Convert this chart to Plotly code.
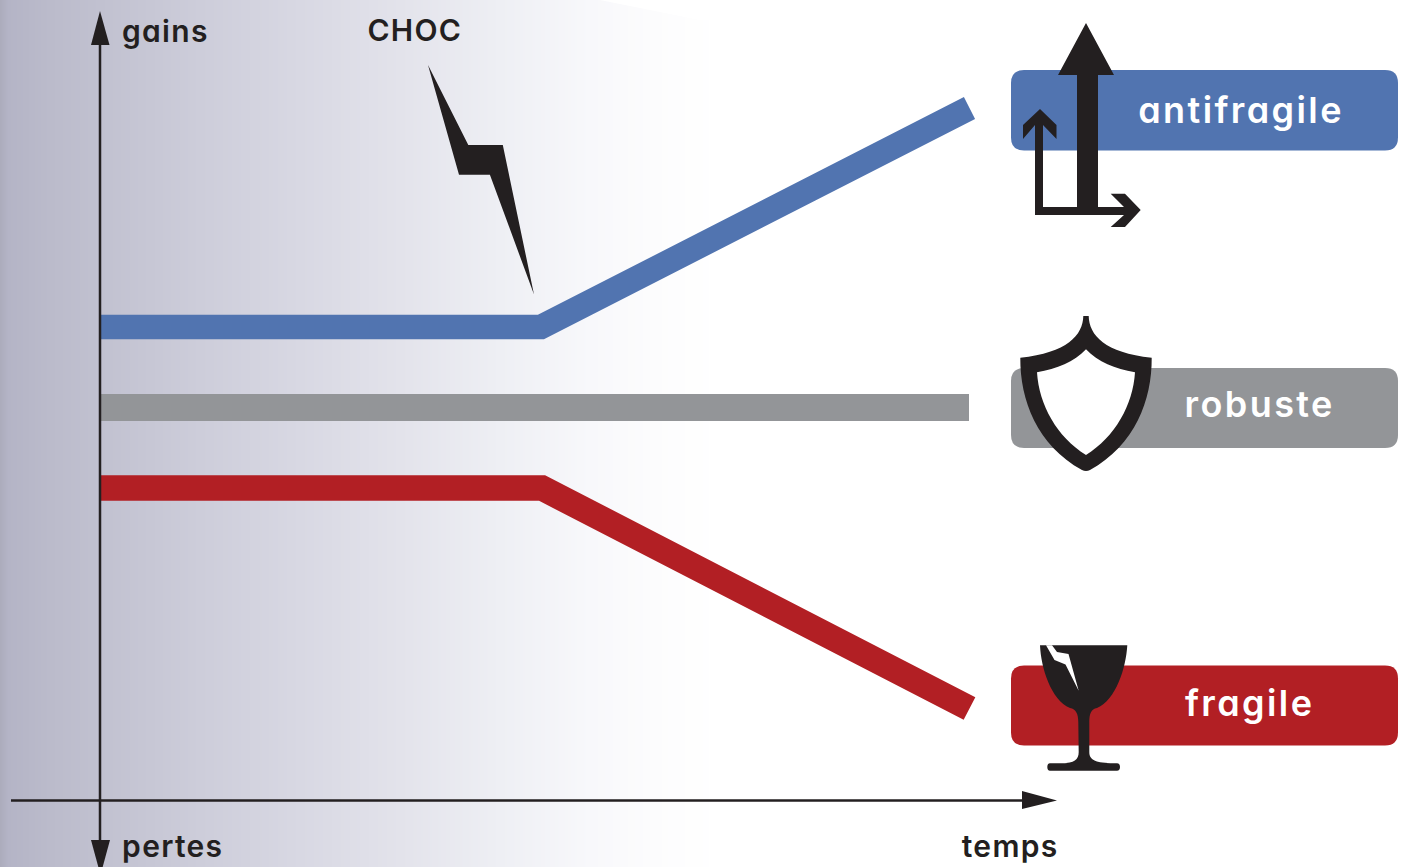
import plotly.graph_objects as go

# ---- data (pixel-like units of the drawing) ----
time_antifragile = [100, 541, 969.5]
level_antifragile = [327, 327, 108]
time_robuste = [100, 969]
level_robuste = [407.5, 407.5]
time_fragile = [100, 542, 969.5]
level_fragile = [488, 488, 708.5]

label_names = ["antifragile", "robuste", "fragile"]
label_colors = ["#5174b0", "#939598", "#b21f24"]
label_tops = [70, 368, 665.5]
label_bottoms = [150.5, 448, 745.5]
label_left = 1011
label_right = 1398
label_text_x = [1241, 1259.5, 1249]
label_text_y = [110, 404, 703]

gradient_x = [0, 8, 50, 100, 200, 300, 400, 500, 590, 650, 720, 1404]
gradient_v = [0.0, 0.04, 0.12, 0.24, 0.36, 0.48, 0.60, 0.74, 0.88, 0.96, 1.0, 1.0]
gradient_scale = [[0.0, "#acacbc"], [0.04, "#b4b4c6"], [0.12, "#bbbbcb"], [0.24, "#c1c1d0"], [0.36, "#cdcdda"],
                  [0.48, "#d8d8e3"], [0.60, "#e3e3eb"], [0.74, "#eeeff4"], [0.88, "#f8f8fb"],
                  [0.96, "#fcfcfd"], [1.0, "#ffffff"]]

INK = "#231f20"
W, H = 1404, 867

bolt_x = [428, 468.3, 502.8, 534, 489.9, 459]
bolt_y = [65, 145, 145, 294.5, 174.7, 174.7]

big_arrow_x = [1086, 1114, 1098, 1098, 1077, 1077, 1058]
big_arrow_y = [23, 75, 75, 215, 215, 75, 75]
small_arrow_x = [1040, 1056.5, 1056.5, 1043, 1043, 1124, 1110.7, 1125, 1140.7, 1125, 1110.7, 1124, 1035, 1035, 1023, 1023]
small_arrow_y = [109, 125, 139, 125, 207, 207, 193.7, 193.7, 210, 227, 227, 215, 215, 125, 139, 125]

shield_outer = ("M1083.3 316 L1088.7 316 C1089 335 1105 353 1151.7 357.7 C1152 400 1135 445 1090 470 "
                "Q1086 472 1082 470 C1037 445 1020 400 1020.3 357.7 C1067 353 1083 335 1083.3 316 Z")
shield_inner = ("M1086 349.3 C1098 362 1115 369 1135 372.3 C1133 405 1115 437 1086 455 "
                "C1057 437 1039 405 1037 372.3 C1057 369 1074 362 1086 349.3 Z")
glass = ("M1040 645.3 L1127.3 645.3 C1126 668 1116 700 1097 708 C1091 709 1089.3 714 1089.3 722 L1089.3 752 "
         "C1089.3 760 1095 763 1115 763.3 L1117 763.3 Q1120 763.5 1120 767 Q1120 770.7 1117 770.7 L1050 770.7 "
         "Q1047.3 770.7 1047.3 767 Q1047.3 763.5 1050 763.3 L1062 763.3 C1074 763 1078.7 760 1078.7 752 L1078.3 722 "
         "C1078.3 714 1076 709 1070 708 C1051 700 1041 668 1040 645.3 Z")
crack = "M1046 645.3 L1054.5 660 L1065.5 664.5 L1078.7 690.7 L1068.5 654 L1057 652 L1052 645.3 Z"
white_corner = "M600 0 L700 20 L720 20 L720 0 Z"


def rounded(x0, y0, x1, y1, r):
    return (f"M{x0+r} {y0} L{x1-r} {y0} Q{x1} {y0} {x1} {y0+r} L{x1} {y1-r} Q{x1} {y1} {x1-r} {y1} "
            f"L{x0+r} {y1} Q{x0} {y1} {x0} {y1-r} L{x0} {y0+r} Q{x0} {y0} {x0+r} {y0} Z")


fig = go.Figure()
fig.add_trace(go.Heatmap(x=gradient_x, y=[0, H], z=[gradient_v, gradient_v], colorscale=gradient_scale,
                         zmin=0, zmax=1, zsmooth="best", showscale=False, hoverinfo="skip"))

for xs, ys, c, w, name in [(time_antifragile, level_antifragile, label_colors[0], 24.5, "antifragile"),
                           (time_robuste, level_robuste, label_colors[1], 27, "robuste"),
                           (time_fragile, level_fragile, label_colors[2], 25.5, "fragile")]:
    fig.add_trace(go.Scatter(x=xs, y=ys, mode="lines", line=dict(color=c, width=w), name=name, hoverinfo="skip"))

# axes
fig.add_trace(go.Scatter(x=[100, 100], y=[42, 842], mode="lines", line=dict(color=INK, width=2.5), hoverinfo="skip"))
fig.add_trace(go.Scatter(x=[11, 1025], y=[800.5, 800.5], mode="lines", line=dict(color=INK, width=2.5), hoverinfo="skip"))

shapes = [dict(type="path", path=white_corner, fillcolor="white", line_width=0, layer="above")]
for i in range(3):
    shapes.append(dict(type="path", path=rounded(label_left, label_tops[i], label_right, label_bottoms[i], 13),
                       fillcolor=label_colors[i], line_width=0, layer="above"))


def poly(xs, ys):
    return "M" + " L".join(f"{a} {b}" for a, b in zip(xs, ys)) + " Z"


for p, c in [(poly(bolt_x, bolt_y), INK), (poly(big_arrow_x, big_arrow_y), INK), (poly(small_arrow_x, small_arrow_y), INK),
             (shield_outer, INK), (shield_inner, "white"), (glass, INK), (crack, "white"),
             (poly([100, 109.5, 91], [11, 45, 45]), INK),
             (poly([91, 110, 100.5], [840, 840, 875]), INK),
             (poly([1022, 1057, 1022], [791, 800.5, 809]), INK)]:
    shapes.append(dict(type="path", path=p, fillcolor=c, line_width=0, layer="above"))

FONT = "Inter"
ann = []
for t, x, y in zip(label_names, label_text_x, label_text_y):
    ann.append(dict(x=x, y=y, text=t, showarrow=False, xanchor="center", yanchor="middle",
                    font=dict(family=FONT, size=36, color="white", weight=600)))
for t, x, y in [("gains", 165, 31), ("CHOC", 414.5, 30), ("pertes", 172.5, 846), ("temps", 1010, 846)]:
    ann.append(dict(x=x, y=y, text=t, showarrow=False, xanchor="center", yanchor="middle",
                    font=dict(family=FONT, size=30, color=INK, weight=600)))

fig.update_layout(width=W, height=H, margin=dict(l=0, r=0, t=0, b=0), showlegend=False,
                  paper_bgcolor="white", plot_bgcolor="white", shapes=shapes, annotations=ann,
                  xaxis=dict(range=[0, W], visible=False, fixedrange=True),
                  yaxis=dict(range=[H, 0], visible=False, fixedrange=True))

page_fix = """
document.body.style.margin = '0';
document.documentElement.style.overflow = 'hidden';
document.querySelectorAll('.annotation-text').forEach(function (t, i) {
  t.style.fontFeatureSettings = '"cv11"';
  t.style.letterSpacing = i < 3 ? '2.4px' : '1.3px';
});
"""
fig.write_html("out.html", config=dict(displayModeBar=False), post_script=page_fix)
